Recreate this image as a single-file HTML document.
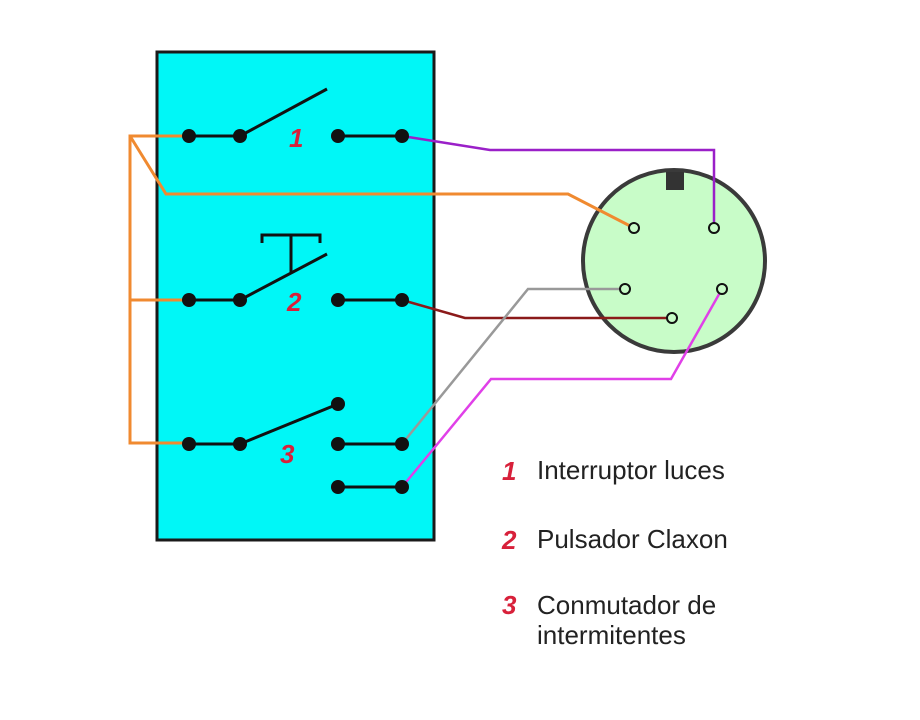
<!DOCTYPE html>
<html><head><style>body{margin:0;background:#fff}svg{display:block}</style></head><body>
<svg width="920" height="720" viewBox="0 0 920 720" xmlns="http://www.w3.org/2000/svg" font-family="Liberation Sans, sans-serif">
<rect x="157" y="52" width="277" height="488" fill="#00f7f7" stroke="#1a1a1a" stroke-width="3"/>
<circle cx="674" cy="261" r="91" fill="#c8fcc8" stroke="#3a3a3a" stroke-width="4"/>
<rect x="666" y="172" width="18" height="18" fill="#333"/>
<g fill="none" stroke-width="3">
<polyline points="189,136 130,136 130,443 189,443" stroke="#f08a30"/>
<line x1="130" y1="300" x2="189" y2="300" stroke="#f08a30"/>
<polyline points="130,136 166,194 568,194 634,228" stroke="#f08a30"/>
</g>
<g fill="none" stroke-width="2.5">
<polyline points="402,136 490,150 714,150 714,228" stroke="#9a20c8"/>
<polyline points="402,300 465,318 672,318" stroke="#8b1a1a"/>
<polyline points="402,444 528,289 625,289" stroke="#999"/>
<polyline points="402,487 491,379 671,379 722,289" stroke="#e040e8"/>
</g>
<g fill="#c8fcc8" stroke="#111" stroke-width="2">
<circle cx="634" cy="228" r="5"/><circle cx="714" cy="228" r="5"/><circle cx="625" cy="289" r="5"/><circle cx="722" cy="289" r="5"/><circle cx="672" cy="318" r="5"/>
</g>
<g stroke="#111" stroke-width="3" fill="none">
<line x1="189" y1="136" x2="240" y2="136"/><line x1="240" y1="136" x2="327" y2="89"/><line x1="338" y1="136" x2="402" y2="136"/>
<line x1="189" y1="300" x2="240" y2="300"/><line x1="240" y1="300" x2="327" y2="254"/><line x1="338" y1="300" x2="402" y2="300"/>
<polyline points="262,243 262,235 320,235 320,243"/><line x1="291" y1="235" x2="291" y2="272"/>
<line x1="189" y1="444" x2="240" y2="444"/><line x1="240" y1="444" x2="338" y2="404"/><line x1="338" y1="444" x2="402" y2="444"/><line x1="338" y1="487" x2="402" y2="487"/>
</g>
<g fill="#111">
<circle cx="189" cy="136" r="7"/><circle cx="240" cy="136" r="7"/><circle cx="338" cy="136" r="7"/><circle cx="402" cy="136" r="7"/>
<circle cx="189" cy="300" r="7"/><circle cx="240" cy="300" r="7"/><circle cx="338" cy="300" r="7"/><circle cx="402" cy="300" r="7"/>
<circle cx="189" cy="444" r="7"/><circle cx="240" cy="444" r="7"/><circle cx="338" cy="404" r="7"/><circle cx="338" cy="444" r="7"/><circle cx="402" cy="444" r="7"/><circle cx="338" cy="487" r="7"/><circle cx="402" cy="487" r="7"/>
</g>
<g fill="#d8203a" font-weight="bold" font-style="italic" font-size="26">
<text x="289" y="147">1</text><text x="287" y="311">2</text><text x="280" y="463">3</text>
<text x="502" y="480">1</text><text x="502" y="549">2</text><text x="502" y="614">3</text>
</g>
<g fill="#222" font-size="26">
<text x="537" y="479">Interruptor luces</text>
<text x="537" y="548">Pulsador Claxon</text>
<text x="537" y="614">Conmutador de</text>
<text x="537" y="644">intermitentes</text>
</g>
</svg>
</body></html>
